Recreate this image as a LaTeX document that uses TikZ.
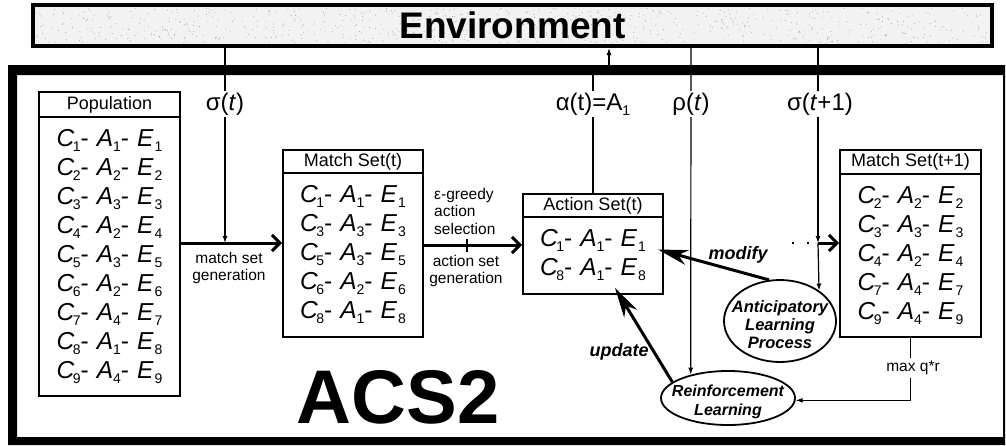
\documentclass[tikz,border=0pt]{standalone}
\usepackage{fontspec}
\setmainfont{Liberation Sans}
\usetikzlibrary{arrows.meta,shapes.geometric}
\newcommand{\subx}[1]{\raisebox{-5pt}{\fontsize{14}{14}\selectfont #1}}
\newcommand{\cae}[3]{\textit{C}\kern-1.5pt\subx{#1}-\hspace{8pt}\textit{A}\subx{#2}-\hspace{8pt}\textit{E}\kern1pt\subx{#3}}
\begin{document}
\begin{tikzpicture}[x=1pt,y=-1pt,
  box/.style={draw, line width=1.8pt, inner sep=0pt},
  hdr/.style={box, font=\fontsize{18}{20}\selectfont},
  setbody/.style={box, align=center, font=\fontsize{24.5}{29}\selectfont},
  lbl/.style={fill=white, inner sep=2pt, font=\fontsize{24}{26}\selectfont},
  small/.style={font=\fontsize{15.5}{17.5}\selectfont, inner sep=1pt},
  bilbl/.style={font=\fontsize{18}{20}\selectfont\bfseries\itshape},
  proc/.style={ellipse, draw, line width=1.8pt, inner sep=0pt},
  proctext/.style={align=center, font=\fontsize{16.5}{18}\selectfont\bfseries\itshape},
  thinarrow/.style={line width=1.2pt, -{Latex[length=7pt,width=5pt]}},
  flow/.style={line width=3pt, -{Straight Barb[length=8pt,width=16pt]}},
  bigarrow/.style={line width=3pt, -{Stealth[length=30pt,width=15pt,inset=9pt]}},
]
\useasboundingbox (0,0) rectangle (1006,445);
% environment
\fill[gray!10] (33,5) rectangle (992,46);
\pgfmathsetseed{7}
\foreach \i in {1,...,700}{
  \pgfmathsetmacro\rx{36+953*rnd}
  \pgfmathsetmacro\ry{8+35*rnd}
  \fill[gray!65] (\rx,\ry) circle (0.55);
}
\node[draw, line width=4pt, minimum width=959, minimum height=41, inner sep=0pt,
      font=\fontsize{37}{38}\selectfont\bfseries] (env) at (512.5,25.5) {Environment};
% main frame
\fill[black, even odd rule] (8,65) rectangle (1005,445) (17,75) rectangle (1003,437);

% coordinates
\coordinate (sTop) at (225,48);
\coordinate (aTop) at (609,48);
\coordinate (rTop) at (691,48);
\coordinate (s2Top) at (818,48);
\coordinate (x1) at (225,243);
\coordinate (x3) at (467,245);
\coordinate (x2) at (818,243);
\coordinate (dotStart) at (792,243);

% boxes
\node[hdr, minimum width=141, minimum height=25] (pophdr) at (109.5,104.5) {Population};
\node[setbody, minimum width=141, minimum height=279] (pop) at (109.5,256.5)
  {\cae{1}{1}{1}\\\cae{2}{2}{2}\\\cae{3}{3}{3}\\\cae{4}{2}{4}\\\cae{5}{3}{5}\\\cae{6}{2}{6}\\\cae{7}{4}{7}\\\cae{8}{1}{8}\\\cae{9}{4}{9}};

\node[hdr, minimum width=140, minimum height=23] (ms1hdr) at (353,161.5) {Match Set(t)};
\node[setbody, minimum width=140, minimum height=164] (ms1) at (353,255)
  {\cae{1}{1}{1}\\\cae{3}{3}{3}\\\cae{5}{3}{5}\\\cae{6}{2}{6}\\\cae{8}{1}{8}};

\node[hdr, minimum width=140, minimum height=23] (ashdr) at (593,205.5) {Action Set(t)};
\node[setbody, minimum width=140, minimum height=77] (asb) at (593,255.5)
  {\cae{1}{1}{1}\\\cae{8}{1}{8}};

\node[hdr, minimum width=141, minimum height=24] (ms2hdr) at (910.5,162) {Match Set(t+1)};
\node[setbody, minimum width=141, minimum height=163] (ms2) at (910.5,255.5)
  {\cae{2}{2}{2}\\\cae{3}{3}{3}\\\cae{4}{2}{4}\\\cae{7}{4}{7}\\\cae{9}{4}{9}};

% processes
\node[proc, minimum width=112, minimum height=82] (alp) at (780,321) {};
\node[proctext] at (780,325) {Anticipatory\\Learning\\Process};
\node[proc, minimum width=134, minimum height=54] (rl) at (728,398) {};
\node[proctext, font=\fontsize{16}{19}\selectfont\bfseries\itshape] at (728,402) {Reinforcement\\Learning};

% connectors
\draw[thinarrow] (sTop) -- (x1);
\draw[flow] (pop.east |- x1) -- (ms1.west |- x1);
\draw[flow] (ms1.east |- x3) -- (asb.west |- x3);
\draw[line width=1.5pt] (467,239) -- (467,252);
\draw[thinarrow] (ashdr.north) -- (593,70) -- (609,70) -- (aTop);
\draw[thinarrow] (rTop) -- (rl.148.7);
\draw[thinarrow] (s2Top) -- (x2);
\draw[thinarrow] (x2) -- (alp.38.4);
\draw[line width=2.2pt, dash pattern=on 2.2pt off 12.8pt] (dotStart) -- (x2);
\draw[flow] (x2) -- (x2 -| ms2.west);
\draw[bigarrow] (alp.105) -- ([shift={(-6,-6)}]asb.east);
\draw[bigarrow] (rl.164) -- ([shift={(22,-7)}]asb.south);
\draw[thinarrow] (ms2.south) |- (rl.-2);

% labels
\node[lbl] at (225,104) {σ(\textit{t})};
\node[lbl] at (593,104) {α(t)=A\subx{1}};
\node[lbl] at (691,104) {ρ(\textit{t})};
\node[lbl] at (820,104) {σ(\textit{t}+1)};
\node[small, align=center] at (229,268) {match set\\generation};
\node[small, align=left, anchor=west] at (433,211) {ε-greedy\\action\\selection};
\node[small, align=center] at (466,271) {action set\\generation};
\node[bilbl] at (738,255) {modify};
\node[bilbl] at (619,352) {update};
\node[small, fill=white, inner sep=3pt] at (913,368) {max q*r};
\node[font=\fontsize{76}{80}\selectfont\bfseries] (acs) at (398,397) {ACS2};
\end{tikzpicture}
\end{document}
